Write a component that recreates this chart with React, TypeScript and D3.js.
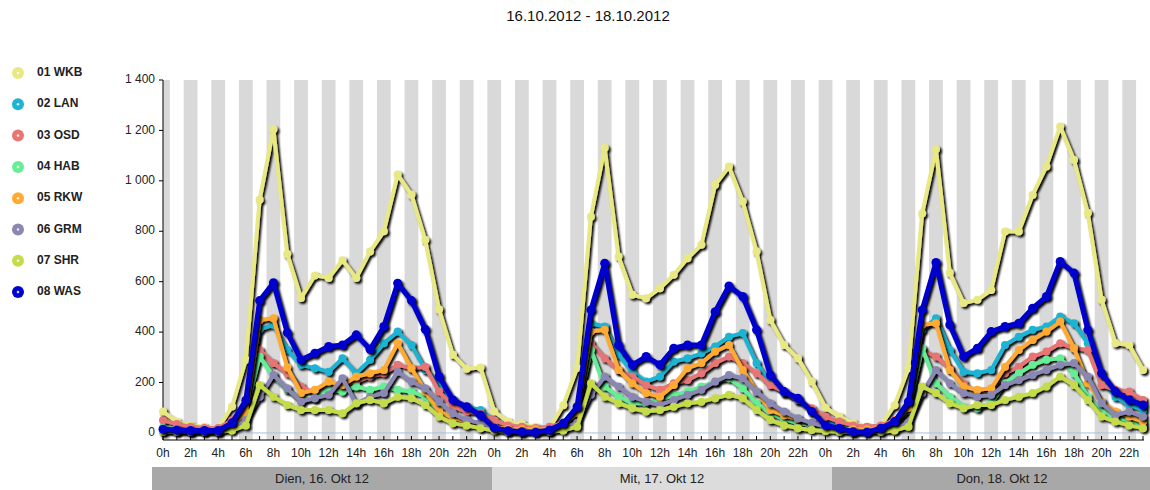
import React from 'react';
import * as d3 from 'd3';

const title = '16.10.2012 - 18.10.2012';
const days = ['Dien, 16. Okt 12', 'Mit, 17. Okt 12', 'Don, 18. Okt 12'];
const hours = d3.range(72);
const yTicks = [0, 200, 400, 600, 800, 1000, 1200, 1400];

const names = ['01 WKB', '02 LAN', '03 OSD', '04 HAB', '05 RKW', '06 GRM', '07 SHR', '08 WAS'];
const colors = ['#e8e885', '#1eb4d2', '#e87474', '#66ee96', '#ffaa33', '#8b87b3', '#c5db4a', '#0000cc'];

const wkb = [85,45,30,25,20,105,290,925,1205,710,535,625,615,685,615,720,800,1025,945,765,490,310,255,260,
  85,45,35,25,20,110,258,858,1130,700,548,534,574,627,693,746,984,1057,918,720,448,349,296,204,
  100,65,38,25,30,110,257,870,1125,635,515,528,567,799,799,944,1057,1216,1083,872,528,356,349,250];
const lan = [20,15,15,15,15,45,100,411,429,330,270,257,243,296,237,290,356,402,349,250,197,131,104,91,
  45,20,15,15,20,40,100,435,422,310,243,204,224,283,296,316,343,382,396,277,197,158,131,85,
  50,30,20,15,20,40,110,409,455,329,243,237,250,349,382,409,422,462,435,356,210,144,111,91];
const osd = [50,35,25,20,20,50,120,329,277,237,184,158,184,197,204,224,237,270,257,263,164,104,85,78,
  50,30,25,20,25,40,100,356,296,250,224,190,171,197,210,237,277,303,277,237,190,164,131,98,
  65,45,30,25,30,50,110,329,303,257,197,158,171,237,263,303,323,356,336,329,190,171,164,131];
const hab = [20,15,10,10,10,30,90,303,224,171,131,138,171,164,184,171,184,171,164,144,85,58,38,30,
  20,15,10,10,12,30,80,329,184,144,118,118,131,151,164,184,204,217,177,118,78,55,40,30,
  20,15,10,10,15,30,90,336,197,144,104,98,118,197,237,270,290,296,237,144,85,58,51,30];
const rkw = [15,12,10,10,10,30,80,448,455,260,158,171,204,190,224,237,250,356,257,164,85,60,45,40,
  25,15,15,15,15,30,80,402,409,250,197,158,144,190,257,277,323,349,250,164,91,70,55,40,
  25,18,15,15,20,40,100,429,435,250,184,171,177,263,329,369,402,442,336,197,124,85,65,45];
const grm = [10,10,8,8,8,20,50,144,230,177,124,138,151,217,115,144,158,243,204,177,124,78,51,40,
  20,10,8,8,10,20,40,151,224,184,144,124,111,131,151,171,204,230,217,164,118,85,58,40,
  25,10,8,8,10,15,40,158,250,197,158,144,151,190,210,230,250,270,277,224,118,71,85,65];
const shr = [5,5,5,5,5,10,30,190,144,111,91,91,91,78,118,131,118,144,138,111,65,38,30,19,
  10,5,5,5,5,10,25,197,144,118,98,85,91,104,118,124,138,151,138,91,51,30,19,12,
  8,5,5,5,5,10,25,184,158,118,98,111,111,131,144,158,184,224,190,131,65,45,30,19];
const was = [15,12,10,10,10,40,130,525,596,398,290,316,343,349,389,332,422,594,525,411,224,131,104,71,
  20,9,5,3,12,38,104,488,673,349,270,303,270,336,349,349,481,583,541,409,230,164,138,85,
  30,19,5,3,19,45,124,488,676,429,303,336,402,422,435,495,541,680,634,409,237,164,131,111];

const series = [wkb, lan, osd, hab, rkw, grm, shr, was];

const font = 'Arial, "Liberation Sans", sans-serif';

const App: React.FC = () => {
  const width = 1150;
  const height = 490;
  const plotTop = 80;
  const plotBottom = 440;
  const x = d3.scaleLinear().domain([0, 71]).range([163, 1143]);
  const y = d3.scaleLinear().domain([-28, 1400]).range([plotBottom, plotTop]);
  const dayBand = d3.scaleBand<string>().domain(days).range([152, 1172]);
  const hourW = x(1) - x(0);

  const line = d3.line<number>()
    .x((_, i) => x(i))
    .y(d => y(d));

  // grey stripes centered on even hours
  const stripes = hours.filter(h => h % 2 === 0).map(h => {
    const x0 = Math.max(x(h) - hourW / 2, x(0));
    const x1 = Math.min(x(h) + hourW / 2, x(71) + 1);
    return { x0, x1 };
  });

  return (
    <div style={{ position: 'fixed', left: 0, top: 0 }}>
      <svg width={width} height={height} style={{ display: 'block', background: '#fff' }}>
        <defs>
          <filter id="shadow" filterUnits="userSpaceOnUse" x={0} y={0} width={width} height={height}>
            <feDropShadow dx={2} dy={2} stdDeviation={1.1} floodColor="#000" floodOpacity={1} />
          </filter>
        </defs>

        <text x={588} y={17} textAnchor="middle" dominantBaseline="middle"
          fontFamily={font} fontSize={15} fill="#111">{title}</text>

        {/* legend */}
        {names.map((n, i) => (
          <g key={n} transform={`translate(18, ${73 + i * 31.3})`}>
            <circle r={6} fill={colors[i]} />
            <circle r={1.3} fill="#fff" opacity={0.8} />
            <text x={19} y={0} dominantBaseline="middle" fontFamily={font}
              fontSize={12} fontWeight="bold" fill="#222">{n}</text>
          </g>
        ))}

        {/* stripes */}
        {stripes.map((s, i) => (
          <rect key={i} x={s.x0} y={plotTop} width={s.x1 - s.x0}
            height={plotBottom - plotTop} fill="#d9d9d9" />
        ))}

        {/* zero line */}
        <line x1={x(0)} x2={x(71) + 1} y1={y(0)} y2={y(0)} stroke="#a9c0d8" strokeWidth={1} />

        {/* y axis */}
        <line x1={x(0)} x2={x(0)} y1={plotTop} y2={plotBottom} stroke="#000" />
        {yTicks.map(t => (
          <g key={t}>
            <line x1={x(0) - 4} x2={x(0)} y1={y(t)} y2={y(t)} stroke="#000" />
            <text x={155} y={y(t)} textAnchor="end" dominantBaseline="middle"
              fontFamily={font} fontSize={12} fill="#222">
              {d3.format(',')(t).replace(/,/g, ' ')}
            </text>
          </g>
        ))}

        {/* x axis */}
        <line x1={x(0)} x2={x(71) + 1} y1={plotBottom} y2={plotBottom} stroke="#000" />
        {hours.map(h => (
          <line key={h} x1={x(h)} x2={x(h)} y1={plotBottom - 4} y2={plotBottom} stroke="#000" />
        ))}
        {hours.filter(h => h % 2 === 0).map(h => (
          <text key={h} x={x(h)} y={454} textAnchor="middle" dominantBaseline="middle"
            fontFamily={font} fontSize={12} fill="#222">{`${h % 24}h`}</text>
        ))}

        {/* day bands */}
        {days.map((d, i) => (
          <g key={d}>
            <rect x={dayBand(d)} y={467} width={dayBand.bandwidth()} height={24}
              fill={i % 2 === 0 ? '#a8a8a8' : '#dcdcdc'} />
            <text x={(dayBand(d) ?? 0) + dayBand.bandwidth() / 2} y={480} textAnchor="middle"
              dominantBaseline="middle" fontFamily={font} fontSize={13} fill="#222">{d}</text>
          </g>
        ))}

        {/* series */}
        {series.map((vals, i) => (
          <g key={names[i]} filter="url(#shadow)">
            <path d={line(vals) ?? ''} fill="none" stroke={colors[i]}
              strokeWidth={i === 7 ? 5 : 4} strokeLinejoin="round" />
            {vals.map((v, j) => (
              <circle key={j} cx={x(j)} cy={y(v)} r={i === 7 ? 4.5 : 4} fill={colors[i]} />
            ))}
          </g>
        ))}
      </svg>
    </div>
  );
};

export default App;
